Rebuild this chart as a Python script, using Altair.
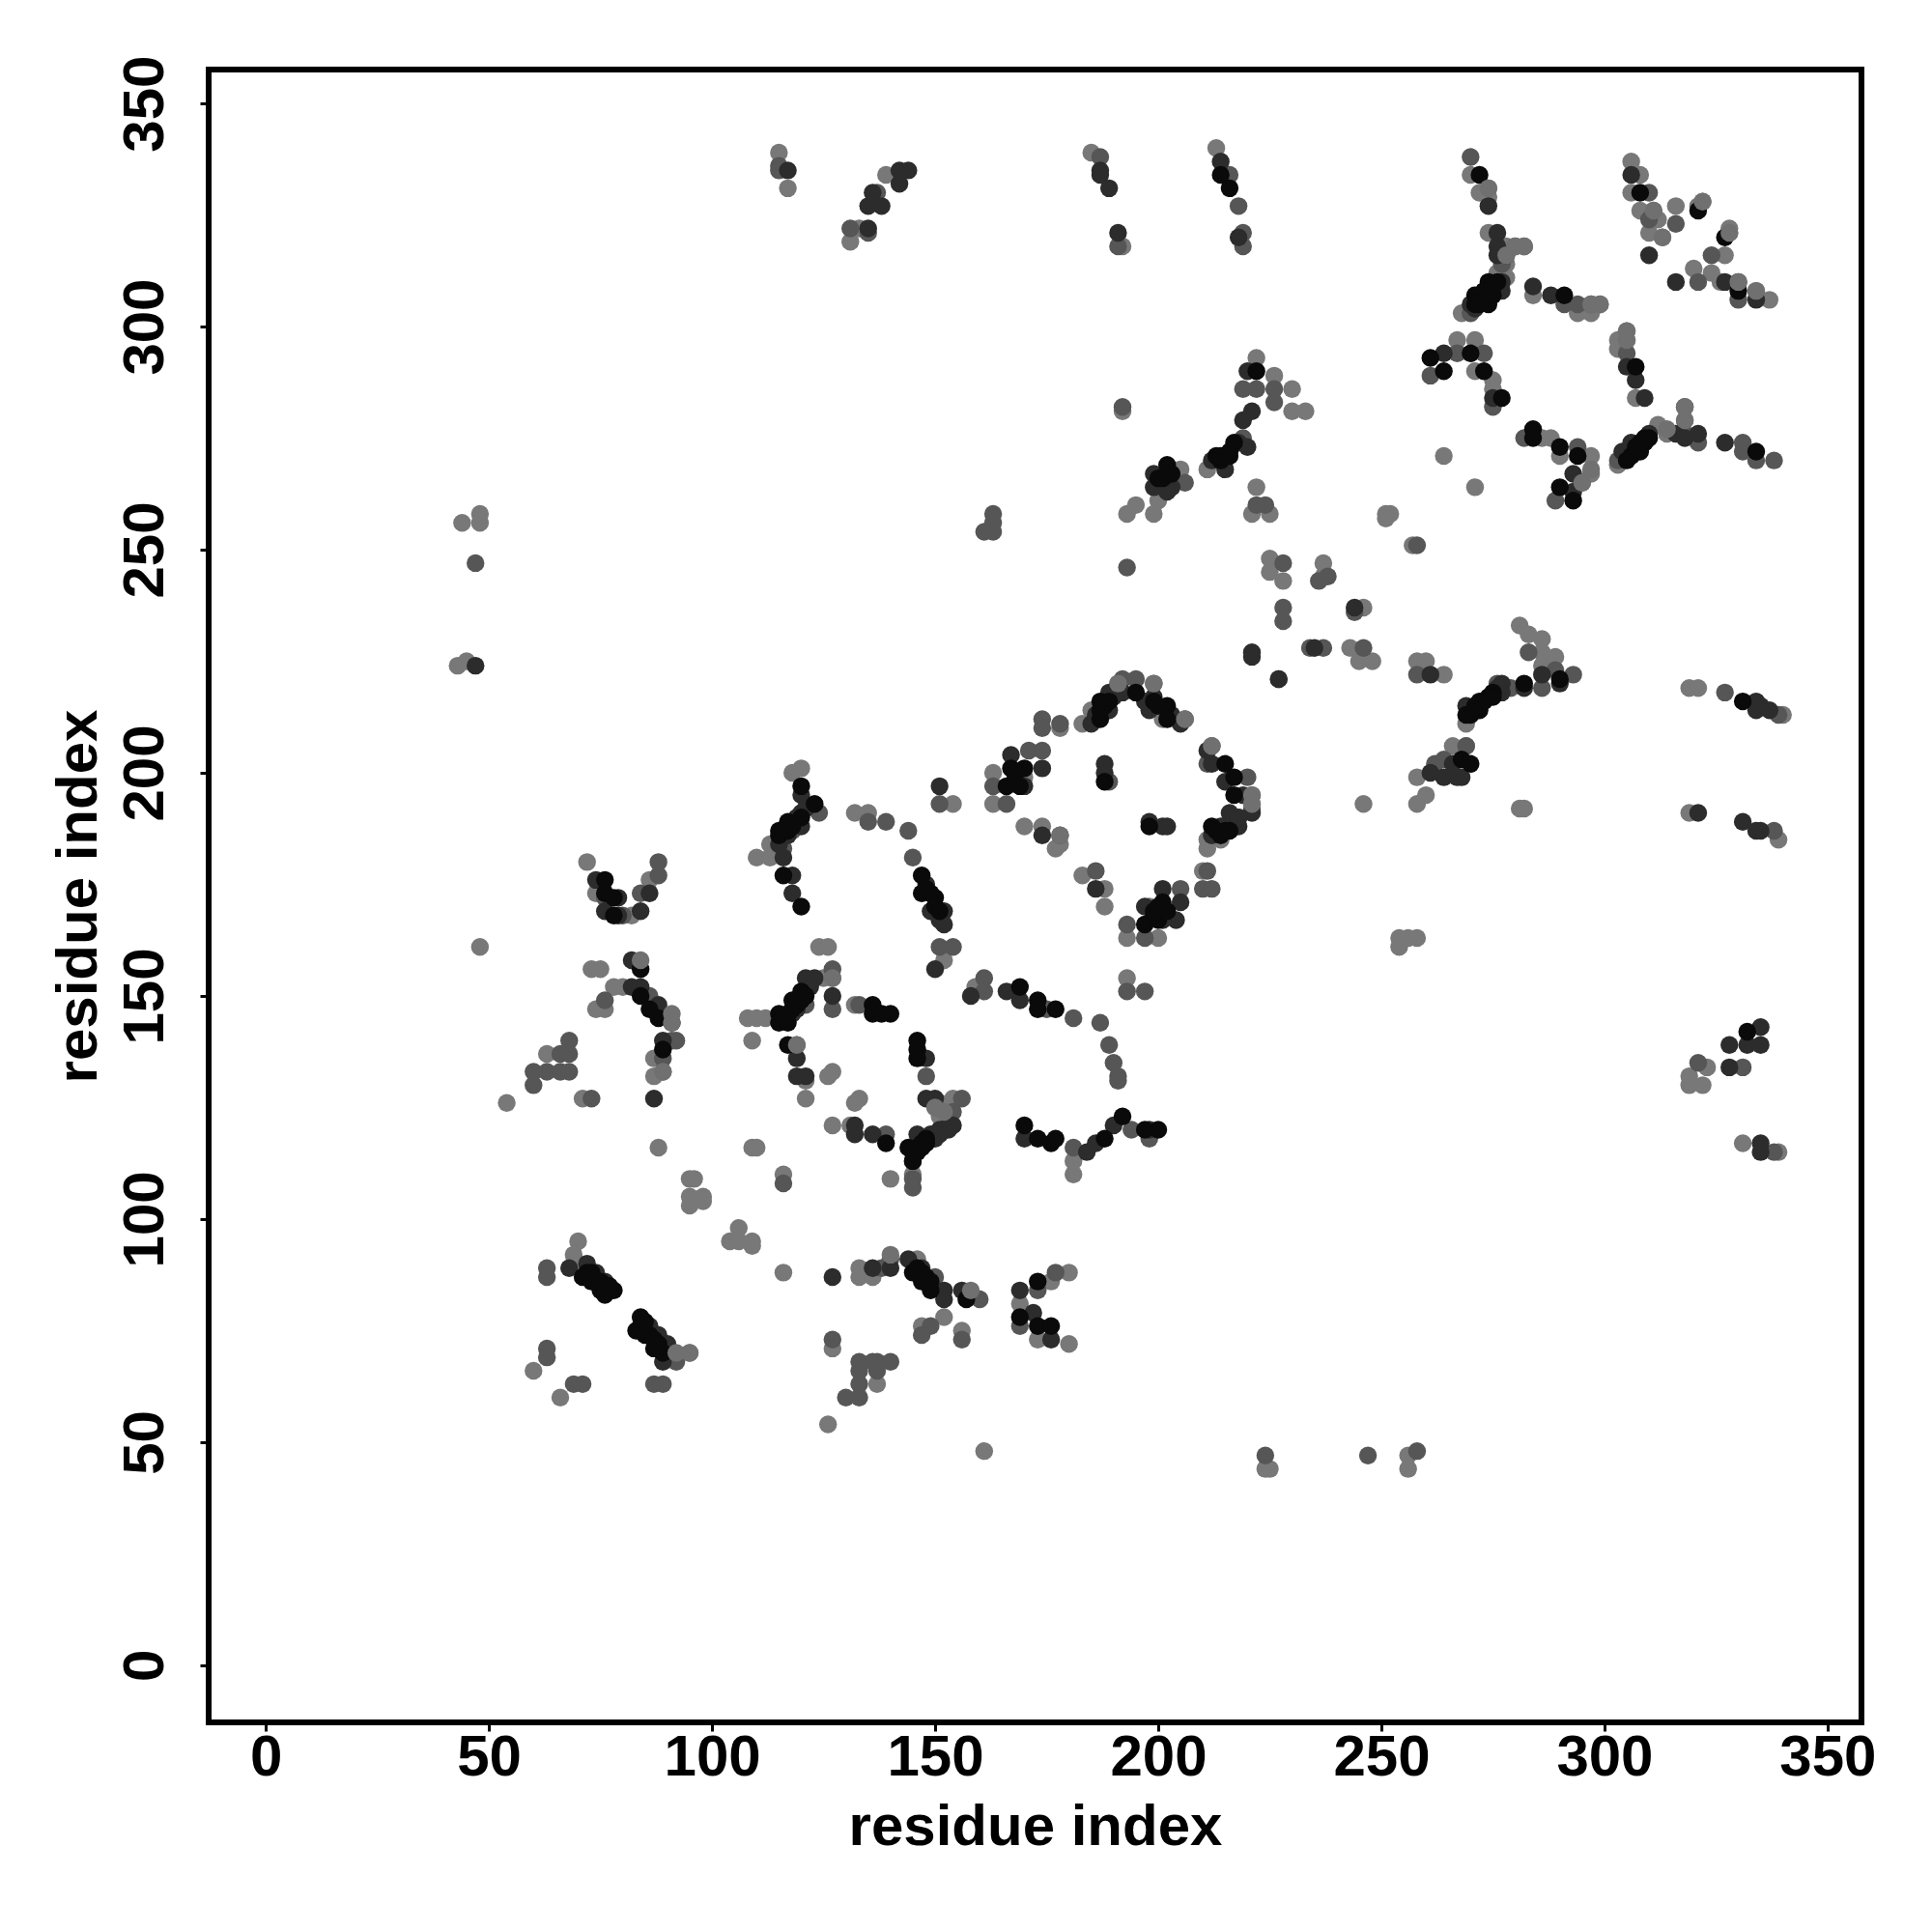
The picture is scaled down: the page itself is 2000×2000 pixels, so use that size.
import altair as alt
import pandas as pd

light_points = [(54,126),(48,161),(44,256),(48,256),(48,258),(43,224),(45,225),(74,173),(86,176),(82,168),(72,180),
(73,156),(75,156),(78,152),(80,152),(74,147),(76,147),(87,136),(89,133),(87,132),(88,116),(63,137),(71,127),(113,184),(110,181),(113,181),
(118,200),(120,201),(108,145),(110,145),(112,145),(109,140),(125,154),(127,154),(132,148),(121,131),(121,127),(127,133),(126,132),(133,127),(132,126),
(127,121),(131,121),(109,116),(110,116),(124,161),(126,161),(132,191),(135,191),(154,193),(152,158),(151,126),(154,127),(151,123),
(95,109),(96,109),(95,105),(95,103),(98,105),(98,104),(106,98),(104,95),(106,95),(109,95),(109,94),(116,110),(116,88),(140,109),(145,110),(181,110),(181,113),
(70,95),(69,92),(70,90),(60,66),(66,60),(95,70),(133,89),(133,87),(136,87),(146,91),(152,78),(147,76),(156,75),(127,71),(137,63),(126,54),(161,48),
(169,81),(176,86),(180,88),(173,73),(180,72),
(178,210),(183,211),(185,214),(191,220),(199,220),(201,212),(214,185),(211,185),(211,183),(210,178),(188,174),(188,170),(193,163),(200,163),(198,170),
(163,200),(163,193),(170,199),(170,188),(174,188),(178,184),(177,183),(183,177),(193,154),(159,152),(218,190),
(246,193),(254,163),(256,163),(258,163),(254,161),(224,44),(225,44),(256,47),(256,44),
(115,339),(133,322),(131,319),(117,331),(139,334),(185,339),(192,318),(213,340),(192,281),(193,258),(195,260),(199,258),(200,261),(205,268),(211,268),
(222,293),(226,289),(230,286),(230,281),(233,281),(222,264),(221,258),(225,258),(225,248),(225,245),(228,243),
(237,247),(237,244),(246,237),(243,228),(245,225),(248,225),(251,258),(252,258),(251,257),(257,251),(258,225),(260,225),(264,222),
(258,199),(258,193),(260,195),(266,206),(269,211),(269,206),(281,233),(283,231),(286,230),(286,227),(289,226),(286,224),(281,192),(282,192),
(319,191),(339,185),(319,219),(321,219),(340,213),(319,130),(319,132),(323,134),(322,130),(331,117),(339,115),
(270,334),(272,330),(274,331),(274,329),(274,321),(278,318),(278,314),(276,312),(278,311),(268,303),
(284,307),(294,303),(297,303),(299,305),(306,337),(308,334),(306,330),(308,326),(311,326),(312,324),(310,321),(313,320),
(316,327),(321,327),(322,328),(328,322),(328,321),(327,316),(320,313),(324,312),(326,310),(334,308),(337,306),
(267,297),(271,297),(271,290),(275,288),(275,286),(264,271),(271,264),(286,275),(288,275),(290,271),(297,271),(297,267),(295,265),
(305,299),(303,297),(305,297),(303,295),(307,284),(303,269),(312,278),(314,276)]

mid_points = [(47,247),(88,177),(88,180),(76,172),(80,168),(84,173),(86,150),(76,149),(91,140),(92,140),(89,136),
(68,140),(66,137),(68,137),(60,133),(63,133),(66,133),(68,133),(60,130),(73,127),(118,187),(116,183),(124,191),(127,156),(127,147),(121,148),(119,139),(133,148),
(135,189),(139,189),(144,187),(145,181),(151,161),(154,161),(151,193),(148,132),(139,119),(156,127),(154,124),(116,108),(145,109),(145,107),
(63,89),(63,87),(63,71),(63,69),(69,63),(71,63),(87,63),(89,63),(92,68),(138,89),(140,91),(150,87),(160,82),(149,76),(147,74),(156,73),(127,73),
(133,68),(136,68),(137,68),(140,68),(133,66),(137,66),(133,63),(130,60),(133,60),(173,84),(177,88),(169,76),
(174,212),(174,210),(178,211),(192,221),(195,221),(206,212),(212,206),(211,202),(220,199),(221,195),(221,192),(171,205),(174,205),(163,197),(166,193),
(178,186),(186,178),(211,178),(210,174),(212,174),(193,166),(197,163),(205,174),(189,198),(193,151),(197,151),(161,154),(161,151),(181,145),(187,144),(189,139),(190,135),(191,132),(191,131),(175,147),
(181,116),(194,120),(198,118),(227,221),(224,47),(247,47),(258,48),
(115,336),(115,335),(131,322),(135,321),(137,330),(187,338),(191,318),(216,334),(218,327),(219,321),(219,318),(192,282),(193,246),(163,258),(163,256),(161,254),(163,254),
(206,265),(219,275),(219,286),(222,286),(226,286),(226,283),(222,260),(224,260),(228,247),(228,237),(228,234),(238,244),(236,243),(244,236),(234,228),(237,228),(246,228),
(258,251),(258,222),(262,202),(264,203),(269,206),(276,220),(279,219),(286,219),(293,222),(283,227),(289,223),
(327,218),(338,187),(339,213),(321,135),(331,134),(338,115),(270,338),(280,318),(282,318),(277,314),(270,303),(291,305),(294,305),(297,305),
(310,330),(310,324),(316,323),(324,316),(321,310),(330,306),(261,289),(267,294),(273,294),(275,282),(282,275),(294,273),(289,261),
(305,294),(303,270),(318,282),(318,279),(318,276),(321,274),(331,274),(331,272),(334,270),(338,270)]

dark_points = [(47,224),(74,176),(79,172),(76,169),(79,168),(84,169),(86,173),(82,158),(82,152),(84,152),(88,148),(91,144),(89,140),(87,127),
(120,195),(120,191),(120,188),(117,186),(115,184),(116,181),(118,177),(118,173),(123,154),(121,154),(127,150),(119,147),(118,146),(119,136),(119,132),(121,132),
(148,136),(132,121),(132,119),(136,119),(149,169),(152,169),(152,166),(150,156),(151,197),(148,127),(150,127),(154,121),(146,119),(145,113),(150,118),(151,120),(153,121),(153,120),
(68,89),(72,90),(74,88),(76,86),(86,76),(88,74),(90,72),(89,68),(127,87),(136,89),(140,89),(144,91),(147,89),(152,84),(152,82),(156,84),(169,84),(172,79),(176,73),
(185,211),(189,218),(189,214),(192,218),(199,217),(198,214),(205,211),(211,205),(212,202),(215,198),(219,195),(216,191),(221,191),(214,188),(218,188),(212,186),
(188,202),(188,200),(198,189),(201,188),(202,188),(167,204),(174,201),(170,197),(174,186),(186,174),(201,174),(197,170),(205,171),(204,167),(158,150),(166,151),(169,149),
(170,118),(184,115),(186,117),(190,121),(198,120),(221,226),
(117,335),(135,322),(135,327),(136,330),(138,327),(142,332),(142,335),(144,335),(187,335),(187,334),(189,331),(191,321),(214,337),(218,320),
(199,267),(199,264),(203,264),(202,263),(212,270),(215,268),(220,273),(219,279),(221,281),(220,290),(221,227),(227,221),(244,237),(235,228),(261,222),(261,200),(264,199),(266,202),(267,199),(268,199),
(269,215),(270,214),(277,220),(282,219),(286,222),(290,220),
(321,191),(331,189),(334,187),(335,187),(334,216),(335,215),(334,214),(337,214),(328,139),(328,134),(332,139),(335,139),(335,143),(335,117),(335,115),
(274,327),(276,321),(276,318),(276,316),(278,316),(277,310),(277,308),(270,305),(271,304),(284,309),(288,307),(306,334),(310,316),(316,310),(327,310),(330,310),(334,306),
(264,294),(275,284),(293,267),(293,263),(305,291),(307,288),(309,284),(304,272),(306,274),(310,276),(316,276),(318,275),(321,276),(327,274),
(119,190),(121,192),(122,152),(149,119),(151,119),(186,213),(190,217),(197,216),(203,213),(216,189),(217,189),(218,190),(218,274),(277,218),(276,219),(148,175),(151,167),(168,199),(201,167)]

black_points = [(76,176),(76,173),(78,172),(78,168),(84,156),(84,150),(86,147),(88,145),(89,138),
(120,197),(123,193),(117,189),(115,187),(116,177),(120,170),(147,177),(147,173),(149,173),(120,151),(118,149),(115,146),(115,144),(117,144),(136,148),(136,146),(140,146),(138,146),
(117,139),(146,140),(146,138),(146,136),(139,117),(144,116),(146,115),(147,116),(148,118),(145,113),
(71,87),(73,86),(75,84),(78,84),(76,83),(84,78),(83,75),(87,71),(145,88),(147,86),(149,84),(157,82),(173,86),(169,78),(173,76),(176,76),
(187,216),(187,212),(195,218),(202,215),(202,212),(215,202),(217,199),(217,195),(212,188),(216,187),(188,198),(198,188),(167,201),(170,201),(166,197),(201,171),(197,166),(200,167),(169,152),(173,149),(173,147),(177,147),
(170,121),(173,118),(176,117),(177,118),(188,118),(192,123),(197,120),(200,120),
(214,334),(216,331),(202,269),(214,270),(216,272),(217,274),(222,290),(268,203),(270,202),(270,213),(272,216),(275,218),(282,220),(290,221),
(331,216),(332,142),(272,334),(274,310),(273,308),(271,307),(275,307),(274,305),(291,307),(308,330),(321,326),(327,320),(330,308),
(261,293),(264,290),(270,294),(273,290),(277,284),(284,277),(284,275),(290,273),(294,271),(290,264),(293,261),(307,291),(306,271),(308,272),(309,275),(334,272),
(272,306),(273,306),(274,307),(275,309),(276,310),(271,305),(272,305),(305,270),(307,273),(308,274),(309,274),(310,275),
(115,186),(116,187),(117,187),(118,188),(120,190),(116,145),(117,146),(118,147),(119,148),(120,149),(121,150),
(145,115),(146,116),(147,117),(148,117),(72,88),(73,88),(74,86),(75,86),(77,85),(84,76),(85,74),(86,74),(87,73),(88,72),(89,70),(85,77),
(146,89),(147,88),(148,87),(149,86),(187,214),(188,215),(189,216),(199,216),(200,215),(213,187),(214,186),(215,187),
(269,213),(271,215),(272,214),(273,216),(274,217),(275,217),(213,271),(214,271),(215,271),(216,271),(201,266),(203,267),(200,266),
(148,174),(150,172),(150,170),(151,169),(168,200),(169,197),(199,168),(199,169),(200,170),(202,169)]

top_points = [(84,158),(91,146),(91,144),(89,133),(95,70),(92,70),(158,84),(140,92),(119,139),(127,154),(152,124),(150,125),(178,186),(206,212),(212,206),(221,195),(221,193),(199,220),(191,220),(274,331),(278,316),(280,318),(282,318),(305,299),(305,297),(318,282),(318,279),(314,277),(311,326),(313,320),(322,328),(328,321),(299,305),(297,305),(297,268),(295,265),(334,308),(330,310)]

layers = [(light_points, "#787878"), (mid_points, "#565656"), (dark_points, "#2c2c2c"), (black_points, "#0a0a0a"), (top_points, "#707070")]

rows = []
for pts, col in layers:
    for a, b in pts:
        rows.append({"x": a, "y": b, "c": col})
df = pd.DataFrame(rows)

tick_values = [0, 50, 100, 150, 200, 250, 300, 350]

font = "Liberation Sans"
chart = alt.Chart(df).mark_circle(size=340, opacity=1).encode(
    x=alt.X("x:Q", scale=alt.Scale(domain=[-12.8, 357.6], nice=False, zero=False),
            axis=alt.Axis(values=tick_values, title="residue index", grid=False, domain=False,
                          labelFont=font, labelFontWeight="bold", labelFontSize=60, labelColor="black",
                          titleFont=font, titleFontWeight="bold", titleFontSize=60, titleColor="black",
                          tickSize=9, tickWidth=3, tickColor="black", labelPadding=-2, titlePadding=13, labelFlush=False, labelOverlap=False)),
    y=alt.Y("y:Q", scale=alt.Scale(domain=[-12.8, 357.6], nice=False, zero=False),
            axis=alt.Axis(values=tick_values, title="residue index", grid=False, domain=False,
                          labelFont=font, labelFontWeight="bold", labelFontSize=60, labelColor="black",
                          labelAngle=-90, labelAlign="center", labelBaseline="bottom",
                          titleFont=font, titleFontWeight="bold", titleFontSize=60, titleColor="black",
                          tickSize=9, tickWidth=3, tickColor="black", labelPadding=26, titlePadding=8, labelFlush=False, labelOverlap=False)),
    color=alt.Color("c:N", scale=None),
).properties(width=1711, height=1711, background="white",
             padding={"left": 42, "top": 49, "right": 20, "bottom": 20}
).configure_view(stroke="black", strokeWidth=6, fill="white")

chart.save("out.html", embed_options={"renderer": "svg", "actions": False})
